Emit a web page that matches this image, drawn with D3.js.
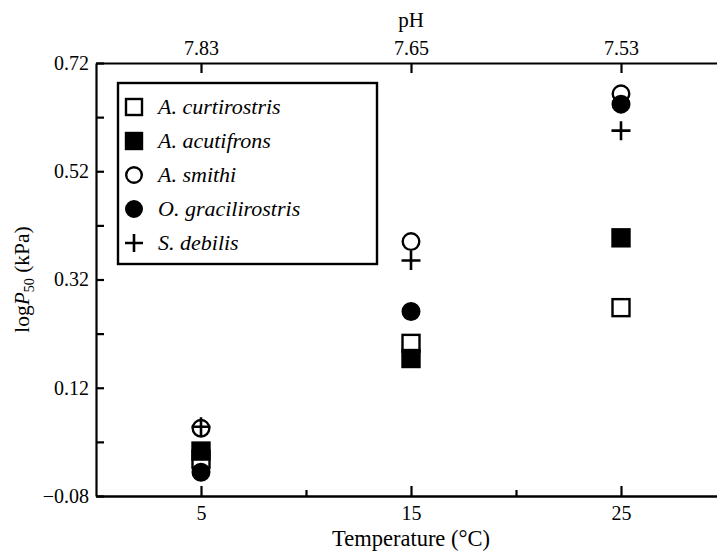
<!DOCTYPE html>
<html>
<head>
<meta charset="utf-8">
<script src="https://cdn.jsdelivr.net/npm/d3@7"></script>
<style>
  body { margin: 0; background: #fff; }
  svg text { font-family: "Liberation Serif", "Times New Roman", serif; fill: #000; }
</style>
</head>
<body>
<div id="chart"></div>
<script>
// temperatures (°C) and matching pH labels for the top axis
const temps = [5, 15, 25];
const phLabels = ['7.83', '7.65', '7.53'];
const xMinorTicks = [10, 20];
const yTicks = [-0.08, 0.12, 0.32, 0.52, 0.72];
const yMinorTicks = [0.02, 0.22, 0.42, 0.62];

// logP50 values at 5, 15, 25 °C
const species = ['A. curtirostris', 'A. acutifrons', 'A. smithi', 'O. gracilirostris', 'S. debilis'];
const markers = ['openSquare', 'filledSquare', 'openCircle', 'filledCircle', 'cross'];
const curtirostris = [-0.012, 0.202, 0.268];
const acutifrons = [0.003, 0.174, 0.397];
const smithi = [0.045, 0.390, 0.663];
const gracilirostris = [-0.036, 0.261, 0.644];
const debilis = [0.048, 0.355, 0.595];
const seriesValues = [curtirostris, acutifrons, smithi, gracilirostris, debilis];

const width = 717, height = 554;
const margin = { top: 63, right: -9, bottom: 58, left: 96 };

const svg = d3.select('#chart').append('svg')
    .attr('width', width)
    .attr('height', height);

const x = d3.scaleLinear().domain([0, 30]).range([margin.left, width - margin.right]);
const y = d3.scaleLinear().domain([-0.08, 0.72]).range([height - margin.bottom, margin.top]);

function styleAxis(g) {
    g.attr('font-family', null);
    g.select('.domain').attr('stroke', '#000').attr('stroke-width', 2.2);
    g.selectAll('.tick line').attr('stroke', '#000').attr('stroke-width', 2.2);
    g.selectAll('.tick text')
        .attr('font-size', 20)
        .attr('font-family', '"Liberation Serif", "Times New Roman", serif');
}

// bottom axis
svg.append('g')
    .attr('transform', `translate(0,${y(-0.08)})`)
    .call(d3.axisBottom(x).tickValues(temps).tickSize(-10).tickPadding(10).tickSizeOuter(0))
    .call(styleAxis);

svg.append('g')
    .attr('transform', `translate(0,${y(-0.08)})`)
    .call(d3.axisBottom(x).tickValues(xMinorTicks).tickSize(-6).tickFormat('').tickSizeOuter(0))
    .call(styleAxis);

// top axis with pH
svg.append('g')
    .attr('transform', `translate(0,${y(0.72)})`)
    .call(d3.axisTop(x).tickValues(temps).tickSize(-10).tickPadding(8).tickSizeOuter(0)
        .tickFormat((d, i) => phLabels[i]))
    .call(styleAxis);

// left axis
svg.append('g')
    .attr('transform', `translate(${x(0)},0)`)
    .call(d3.axisLeft(y).tickValues(yTicks).tickSize(-8).tickPadding(7).tickSizeOuter(0)
        .tickFormat(d3.format('.2f')))
    .call(styleAxis);

svg.append('g')
    .attr('transform', `translate(${x(0)},0)`)
    .call(d3.axisLeft(y).tickValues(yMinorTicks).tickSize(-8).tickFormat('').tickSizeOuter(0))
    .call(g => g.select('.domain').remove())
    .call(styleAxis);

// axis titles
svg.append('text')
    .attr('x', x(15))
    .attr('y', 546)
    .attr('text-anchor', 'middle')
    .attr('font-size', 22.5)
    .text('Temperature (°C)');

svg.append('text')
    .attr('x', x(15))
    .attr('y', 27)
    .attr('text-anchor', 'middle')
    .attr('font-size', 21)
    .text('pH');

const yTitle = svg.append('text')
    .attr('transform', `translate(29,${(y(0.72) + y(-0.08)) / 2}) rotate(-90)`)
    .attr('text-anchor', 'middle')
    .attr('font-size', 21.5);
yTitle.append('tspan').text('log');
yTitle.append('tspan').attr('font-style', 'italic').text('P');
yTitle.append('tspan').attr('font-size', 14).attr('dy', 5).text('50');
yTitle.append('tspan').attr('dy', -5).text(' (kPa)');

// marker drawing
function drawMarker(g, type, cx, cy, s) {
    const half = s / 2;
    if (type === 'openSquare' || type === 'filledSquare') {
        const filled = type === 'filledSquare';
        g.append('rect')
            .attr('x', cx - half + 1).attr('y', cy - half + 1)
            .attr('width', s - 2).attr('height', s - 2)
            .attr('fill', filled ? '#000' : '#fff')
            .attr('stroke', '#000')
            .attr('stroke-width', 2.4);
    } else if (type === 'openCircle' || type === 'filledCircle') {
        const filled = type === 'filledCircle';
        g.append('circle')
            .attr('cx', cx).attr('cy', cy).attr('r', half - 1.2)
            .attr('fill', filled ? '#000' : '#fff')
            .attr('stroke', '#000')
            .attr('stroke-width', 2.4);
    } else {
        g.append('path')
            .attr('d', `M${cx - half},${cy}H${cx + half}M${cx},${cy - half}V${cy + half}`)
            .attr('stroke', '#000')
            .attr('stroke-width', 2.6)
            .attr('fill', 'none');
    }
}

const points = svg.append('g');
seriesValues.forEach((vals, si) => {
    vals.forEach((v, ti) => {
        drawMarker(points, markers[si], x(temps[ti]), y(v), 19);
    });
});

// legend
const legend = svg.append('g');
legend.append('rect')
    .attr('x', 118).attr('y', 83)
    .attr('width', 259).attr('height', 181)
    .attr('fill', '#fff')
    .attr('stroke', '#000')
    .attr('stroke-width', 2.4);

species.forEach((name, i) => {
    const cy = 107 + i * 34;
    drawMarker(legend, markers[i], 134, cy, 18);
    legend.append('text')
        .attr('x', 158)
        .attr('y', cy + 7)
        .attr('font-size', 22)
        .attr('font-style', 'italic')
        .text(name);
});
</script>
</body>
</html>
